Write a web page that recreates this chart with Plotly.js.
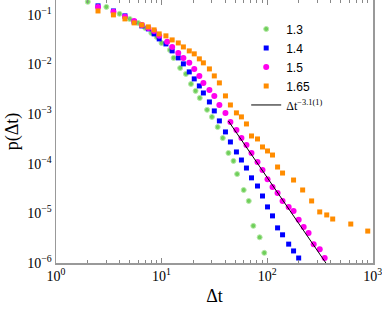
<!DOCTYPE html>
<html>
<head>
<meta charset="utf-8">
<script src="https://cdn.plot.ly/plotly-3.0.1.min.js"></script>
<style>html,body{margin:0;padding:0;background:#fff;}#chart{width:382px;height:312px;}</style>
</head>
<body>
<div id="chart"></div>
<script>
// Series 1.3
const x13 = [2,3,4,5,6,7,8,9,10,12,13,15,17,19,21,23,27,30,34,38,43,48,52,60,67,74,85,94];
const y13 = [0.183,0.145,0.105,0.083,0.069,0.0547,0.0434,0.036,0.0272,0.0197,0.0136,0.00853,0.00646,0.00406,0.00294,0.00212,0.00122,0.00088,0.00055,0.00033,0.000165,0.000114,6.2e-5,2.96e-5,1.78e-5,5.6e-6,3.3e-6,1.6e-6];
// Series 1.4
const x14 = [2.5,3.5,4.5,5.5,6.5,7.5,8.5,9.5,11,12.6,14.4,16.1,18.3,20.4,22.8,24.9,28.4,31.6,35.3,40.3,44.9,51.2,57.1,63.7,71.1,81.1,90.4,100.9,112.5,125.6,140,160,178,199];
const y14 = [0.152,0.120,0.0955,0.0723,0.060,0.0522,0.0414,0.0328,0.026,0.0188,0.0136,0.0103,0.0071,0.00513,0.0037,0.00267,0.00176,0.00116,0.00073,0.000438,0.000275,0.000173,0.000119,8.2e-5,5.2e-5,3.56e-5,2.24e-5,1.35e-5,8.9e-6,5.1e-6,3.7e-6,2.4e-6,1.75e-6,1.26e-6];
// Series 1.5
const x15 = [2.5,3.5,4.5,5.5,6.5,7.5,8.5,9.5,11.3,12.6,14.4,16.1,18.3,20.4,22.8,24.9,28.4,31.6,35.3,40.3,44.9,51.2,57.1,63.7,71.1,81.1,90.4,100.9,112.5,125.6,140,160,178,199,222,247,276,315,351];
const y15 = [0.145,0.115,0.0912,0.0757,0.0628,0.0547,0.0476,0.0378,0.0286,0.0226,0.0171,0.0136,0.0108,0.00815,0.00589,0.00426,0.00308,0.00233,0.00153,0.00106,0.000697,0.00048,0.00033,0.000239,0.000165,0.000109,7.5e-5,4.9e-5,3.4e-5,2.58e-5,1.78e-5,1.35e-5,1.12e-5,7.4e-6,5.3e-6,4.0e-6,2.4e-6,1.9e-6,1.26e-6];
// Series 1.65
const x165 = [2.5,3.5,4.5,5.5,6.5,7.5,8.5,9.5,11,12.6,14.4,16.1,18.3,20.4,22.8,24.9,28.4,31.6,35.3,40.3,44.9,51.2,57.1,63.7,71.1,81.1,90.4,100.9,112.5,125.6,140,178,217,264,315,367,418,620,898];
const y165 = [0.120,0.100,0.083,0.069,0.0628,0.0573,0.0499,0.0414,0.0378,0.0313,0.0272,0.0226,0.0188,0.0164,0.0130,0.0108,0.00815,0.00589,0.00426,0.00233,0.00153,0.00106,0.00088,0.000634,0.000363,0.000316,0.000218,0.000181,0.00015,8.6e-5,6.5e-5,4.7e-5,2.96e-5,1.78e-5,1.07e-5,9.3e-6,7.7e-6,6.1e-6,4.4e-6];
// Fit line endpoints (Δt^-3.1)
const xFit = [43, 370];
const yFit = [7.26e-4, 9.2e-7];
// Tick labels
const xTickVals = [1, 10, 100, 1000];
const xTickText = ['10<sup>0</sup>', '10<sup>1</sup>', '10<sup>2</sup>', '10<sup>3</sup>'];
const xMinorVals = [2,3,4,5,6,7,8,9,20,30,40,50,60,70,80,90,200,300,400,500,600,700,800,900];
const yTickVals = [1e-6, 1e-5, 1e-4, 1e-3, 1e-2, 1e-1];
const yTickText = ['10<sup>−6</sup>', '10<sup>−5</sup>', '10<sup>−4</sup>', '10<sup>−3</sup>', '10<sup>−2</sup>', '10<sup>−1</sup>'];

const traces = [
  {x: x13, y: y13, name: '1.3', mode: 'markers', type: 'scatter',
   marker: {symbol: 'circle', size: 5, color: '#6fcf5a', line: {width: 1, color: '#b6e8a8'}}},
  {x: x14, y: y14, name: '1.4', mode: 'markers', type: 'scatter',
   marker: {symbol: 'square', size: 5, color: '#0000ff'}},
  {x: x15, y: y15, name: '1.5', mode: 'markers', type: 'scatter',
   marker: {symbol: 'circle', size: 6, color: '#ff00ee'}},
  {x: x165, y: y165, name: '1.65', mode: 'markers', type: 'scatter',
   marker: {symbol: 'square', size: 5, color: '#ff8c00'}},
  {x: xFit, y: yFit, name: '<span style="font-family:Liberation Serif">Δt<sup>−3.1(1)</sup></span>', mode: 'lines', type: 'scatter',
   line: {color: '#000', width: 1}}
];

const layout = {
  width: 382, height: 312,
  margin: {l: 56, r: 9, t: 0, b: 49},
  paper_bgcolor: '#fff', plot_bgcolor: '#fff',
  font: {family: 'Liberation Serif', size: 14, color: '#000'},
  showlegend: true,
  legend: {x: 0.6, y: 0.945, xanchor: 'left', yanchor: 'top', bgcolor: 'rgba(0,0,0,0)',
           font: {family: 'Liberation Sans', size: 12, color: '#000'}, itemwidth: 30},
  xaxis: {
    type: 'log', range: [0, 3.003], showgrid: false, zeroline: false,
    showline: true, linecolor: '#999', linewidth: 1.5, mirror: 'ticks',
    ticks: 'inside', ticklen: 5, tickcolor: '#888', tickwidth: 1,
    tickmode: 'array', tickvals: xTickVals, ticktext: xTickText,
    ticklabeloverflow: 'allow',
    tickfont: {family: 'Liberation Serif', size: 14, color: '#000'},
    minor: {tickmode: 'array', tickvals: xMinorVals, ticks: 'inside', ticklen: 3, tickcolor: '#888', showgrid: false},
    title: {text: 'Δt', font: {family: 'Liberation Serif', size: 18, color: '#000'}, standoff: 6}
  },
  yaxis: {
    type: 'log', range: [-6, -0.7], showgrid: false, zeroline: false,
    showline: true, linecolor: '#999', linewidth: 1.5, mirror: true,
    ticks: '', tickmode: 'array', tickvals: yTickVals, ticktext: yTickText,
    tickfont: {family: 'Liberation Serif', size: 14, color: '#000'},
    title: {text: 'p(Δt)', font: {family: 'Liberation Serif', size: 18, color: '#000'}, standoff: 4}
  }
};

Plotly.newPlot('chart', traces, layout, {displayModeBar: false, staticPlot: true});
</script>
</body>
</html>
